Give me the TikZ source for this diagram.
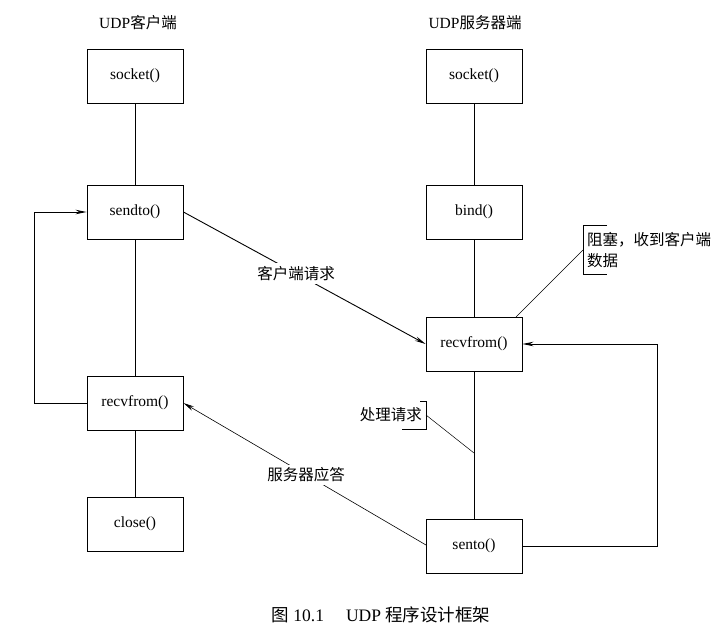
\documentclass[tikz,border=0pt]{standalone}
\usepackage{fontspec}
\setmainfont{Liberation Serif}
\newfontfamily\cjk{Noto Sans CJK SC}
\usetikzlibrary{arrows.meta}
\begin{document}
\begin{tikzpicture}[x=1pt,y=-1pt,
  box/.style={draw, line width=0.9pt, minimum width=96pt, minimum height=54pt, inner sep=0pt, font=\fontsize{15.5}{18}\selectfont},
  link/.style={line width=0.9pt},
  arr/.style={line width=0.9pt, -{Stealth[length=11pt,width=4.5pt]}},
  note/.style={line width=0.5pt},
  brk/.style={line width=0.7pt},
  lbl/.style={font=\cjk\fontsize{15.5}{21}\selectfont, inner sep=1pt},
  ttl/.style={font=\fontsize{15.5}{18}\selectfont}]
\useasboundingbox (0,0) rectangle (722,634);

% titles
\node[ttl] (tc) at (138,23) {UDP{\cjk 客户端}};
\node[ttl] (ts) at (475,23) {UDP{\cjk 服务器端}};

% client column
\node[box] (csock) at (135,76) {socket()};
\node[box] (csend) at (135,212) {sendto()};
\node[box] (crecv) at (135,403) {recvfrom()};
\node[box] (cclose) at (135,524) {close()};

% server column
\node[box] (ssock) at (474,76) {socket()};
\node[box] (sbind) at (474,212) {bind()};
\node[box] (srecv) at (474,344) {recvfrom()};
\node[box] (ssend) at (474,546) {sento()};

% vertical links
\draw[link] (csock) -- (csend);
\draw[link] (csend) -- (crecv);
\draw[link] (crecv) -- (cclose);
\draw[link] (ssock) -- (sbind);
\draw[link] (sbind) -- (srecv);
\draw[link] (srecv) -- (ssend);

% loops
\coordinate (cl1) at (34,403);
\coordinate (cl2) at (34,212);
\draw[arr] (crecv.west) -- (cl1) -- (cl2) -- (csend.west);
\coordinate (sl1) at (657,546);
\coordinate (sl2) at (657,344);
\draw[arr] (ssend.east) -- (sl1) -- (sl2) -- (srecv.west -| srecv.east);

% request / reply
\draw[arr] (csend.east) -- node[lbl, pos=0.465, fill=white, inner sep=3pt] (req) {客户端请求} (srecv.west);
\coordinate (sendl) at (426,545);
\draw[note, -{Stealth[length=11pt,width=4.5pt]}, line width=0.6pt] (sendl) -- node[lbl, pos=0.494, fill=white, inner sep=3pt] (rep) {服务器应答} (crecv.east);

% annotation: blocked
\node[lbl, anchor=west, align=left] (n1) at (586,250) {阻塞，收到客户端\\数据};
\draw[brk] (607,225) -- (583,225) -- (583,274) -- (607,274);
\coordinate (n1p) at (583,250);
\coordinate (n1q) at (516,317);
\draw[note] (n1p) -- (n1q);

% annotation: processing
\node[lbl, anchor=east] (n2) at (423,415) {处理请求};
\draw[brk] (420,401) -- (426,401) -- (426,429) -- (402,429);
\coordinate (n2p) at (426,415);
\coordinate (n2q) at (474,453);
\draw[note] (n2p) -- (n2q);

% caption
\node[font=\fontsize{17.5}{20}\selectfont] (cap) at (381,615) {{\cjk 图} 10.1\hspace{22pt}UDP {\cjk 程序设计框架}};
\end{tikzpicture}
\end{document}
